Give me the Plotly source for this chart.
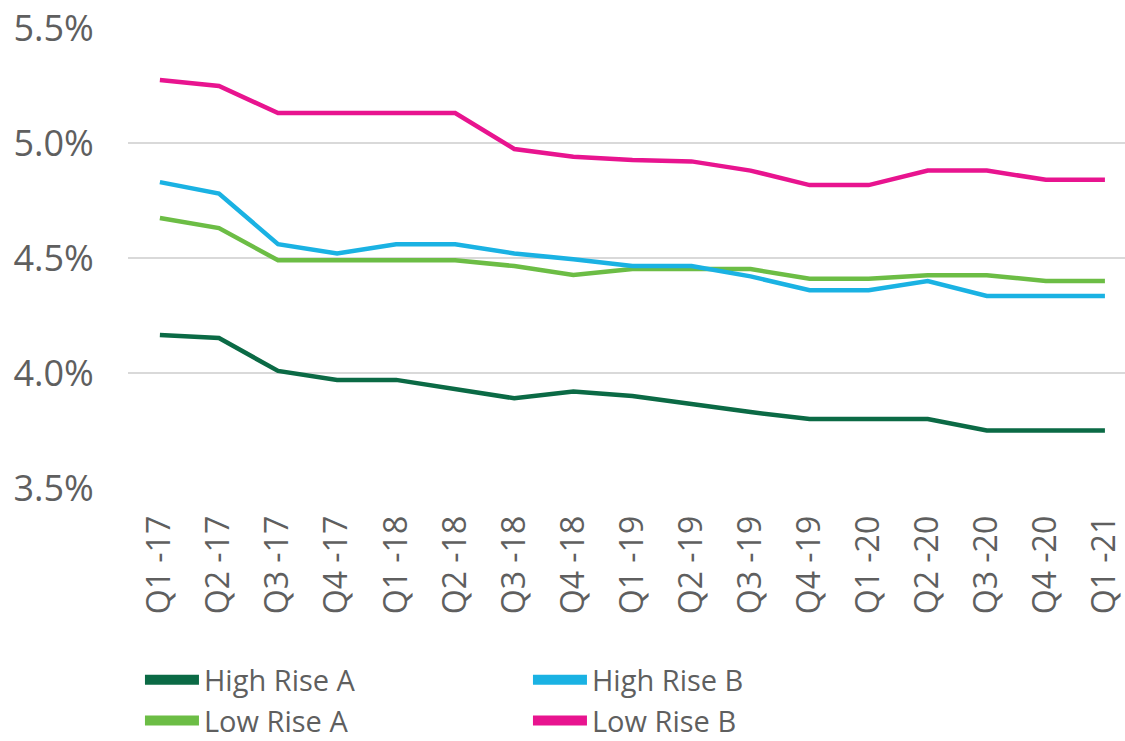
import plotly.graph_objects as go

quarters = ["Q1 -17", "Q2 -17", "Q3 -17", "Q4 -17", "Q1 -18", "Q2 -18", "Q3 -18", "Q4 -18",
            "Q1 -19", "Q2 -19", "Q3 -19", "Q4 -19", "Q1 -20", "Q2 -20", "Q3 -20", "Q4 -20", "Q1 -21"]

high_rise_a = [4.165, 4.152, 4.009, 3.97, 3.97, 3.93, 3.89, 3.92, 3.90, 3.865, 3.83, 3.80, 3.80, 3.80, 3.75, 3.75, 3.75]
low_rise_a = [4.674, 4.63, 4.49, 4.49, 4.49, 4.49, 4.465, 4.426, 4.452, 4.452, 4.452, 4.41, 4.41, 4.425, 4.425, 4.40, 4.40]
high_rise_b = [4.83, 4.78, 4.56, 4.52, 4.56, 4.56, 4.52, 4.495, 4.465, 4.465, 4.42, 4.36, 4.36, 4.40, 4.335, 4.335, 4.335]
low_rise_b = [5.274, 5.248, 5.13, 5.13, 5.13, 5.13, 4.974, 4.94, 4.926, 4.92, 4.88, 4.817, 4.817, 4.88, 4.88, 4.84, 4.84]

series_names = ["High Rise A", "High Rise B", "Low Rise A", "Low Rise B"]
series_values = [high_rise_a, high_rise_b, low_rise_a, low_rise_b]
series_colors = ["#0b6a45", "#1ab2e3", "#6cbd45", "#e8148f"]

y_ticks = [3.5, 4.0, 4.5, 5.0, 5.5]
y_tick_labels = ["3.5%", "4.0%", "4.5%", "5.0%", "5.5%"]

FONT = "Open Sans"
GREY = "#5f5f5f"

fig = go.Figure()

draw_order = [2, 1, 0, 3]
for i in draw_order:
    fig.add_trace(go.Scatter(
        x=quarters, y=series_values[i], mode="lines", name=series_names[i],
        line=dict(color=series_colors[i], width=4.5), showlegend=False,
        hoverinfo="x+y+name",
    ))

# legend entries with wide swatches
for name, color in zip(series_names, series_colors):
    fig.add_trace(go.Scatter(
        x=[None], y=[None], mode="lines", name=name,
        line=dict(color=color, width=10), showlegend=True,
    ))

fig.update_layout(
    width=1125, height=741,
    margin=dict(l=128, r=0, t=28, b=253, autoexpand=False),
    paper_bgcolor="white", plot_bgcolor="white",
    font=dict(family=FONT, color=GREY),
    showlegend=True,
    legend=dict(
        orientation="h", x=0.012, xanchor="left", y=-0.362, yanchor="top",
        entrywidth=319, entrywidthmode="pixels",
        font=dict(size=29, family=FONT, color=GREY),
        traceorder="normal", itemwidth=54,
        bgcolor="rgba(0,0,0,0)",
    ),
    xaxis=dict(
        type="category", range=[-0.54, 16.34], automargin=False,
        showgrid=False, zeroline=False, showline=False,
        tickangle=-90, ticks="outside", ticklen=14, tickcolor="rgba(0,0,0,0)",
        tickfont=dict(size=32, family=FONT, color=GREY),
    ),
    yaxis=dict(
        range=[3.5, 5.5], tickvals=y_ticks, ticktext=y_tick_labels, automargin=False,
        showgrid=True, gridcolor="#d9d9d9", gridwidth=1.5,
        zeroline=False, showline=False,
        ticks="outside", ticklen=26, tickcolor="rgba(0,0,0,0)",
        tickfont=dict(size=36, family=FONT, color=GREY),
    ),
)

fig.write_html("out.html")
